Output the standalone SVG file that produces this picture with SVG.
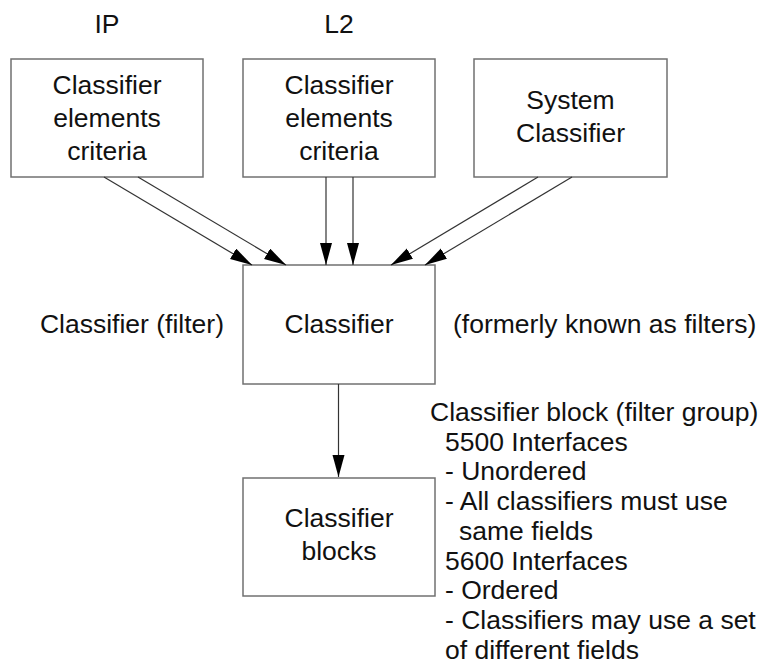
<svg xmlns="http://www.w3.org/2000/svg" width="765" height="664" viewBox="0 0 765 664">
<style>
.box{fill:#fff;stroke:#707070;stroke-width:1.5}
.t{font-family:"Liberation Sans",Arial,sans-serif;font-size:26.5px;fill:#111}
.c{text-anchor:middle}
.ln{stroke:#333;stroke-width:1.2;fill:none}
</style>
<defs>
<marker id="ah" markerUnits="userSpaceOnUse" markerWidth="23" markerHeight="13" refX="22" refY="6" orient="auto">
<path d="M0,0 L22,6 L0,12 z" fill="#000"/>
</marker>
</defs>
<g id="label-ip"><text class="t c" x="107" y="33">IP</text></g>
<g id="label-l2"><text class="t c" x="339" y="33">L2</text></g>
<g id="ip-criteria">
<rect class="box" x="11" y="59" width="192" height="118"/>
<text class="t c" x="107" y="94">Classifier</text>
<text class="t c" x="107" y="127">elements</text>
<text class="t c" x="107" y="160">criteria</text>
</g>
<g id="l2-criteria">
<rect class="box" x="243" y="59" width="192" height="118"/>
<text class="t c" x="339" y="94">Classifier</text>
<text class="t c" x="339" y="127">elements</text>
<text class="t c" x="339" y="160">criteria</text>
</g>
<g id="system-classifier">
<rect class="box" x="474" y="59" width="193" height="118"/>
<text class="t c" x="570.5" y="109">System</text>
<text class="t c" x="570.5" y="142">Classifier</text>
</g>
<g id="classifier">
<rect class="box" x="243" y="265" width="192" height="119"/>
<text class="t c" x="339" y="333">Classifier</text>
</g>
<g id="label-left"><text class="t" x="224" y="333" text-anchor="end">Classifier (filter)</text></g>
<g id="label-right"><text class="t" x="453" y="333">(formerly known as filters)</text></g>
<g id="classifier-blocks">
<rect class="box" x="243" y="478" width="192" height="118"/>
<text class="t c" x="339" y="527">Classifier</text>
<text class="t c" x="339" y="560">blocks</text>
</g>
<g id="notes">
<text class="t" x="430" y="421">Classifier block (filter group)</text>
<text class="t" x="445" y="450.7">5500 Interfaces</text>
<text class="t" x="445" y="480.4">- Unordered</text>
<text class="t" x="445" y="510.1">- All classifiers must use</text>
<text class="t" x="459" y="539.8">same fields</text>
<text class="t" x="445" y="569.5">5600 Interfaces</text>
<text class="t" x="445" y="599.2">- Ordered</text>
<text class="t" x="445" y="628.9">- Classifiers may use a set</text>
<text class="t" x="445" y="658.6">of different fields</text>
</g>
<g id="connectors">
<line class="ln" x1="104" y1="177" x2="252" y2="265" marker-end="url(#ah)"/>
<line class="ln" x1="138" y1="177" x2="286" y2="265" marker-end="url(#ah)"/>
<line class="ln" x1="326" y1="177" x2="326" y2="265" marker-end="url(#ah)"/>
<line class="ln" x1="353" y1="177" x2="353" y2="265" marker-end="url(#ah)"/>
<line class="ln" x1="538" y1="177" x2="391" y2="265" marker-end="url(#ah)"/>
<line class="ln" x1="572" y1="177" x2="425" y2="265" marker-end="url(#ah)"/>
<line class="ln" x1="338.5" y1="384" x2="338.5" y2="477" marker-end="url(#ah)"/>
</g>
</svg>
